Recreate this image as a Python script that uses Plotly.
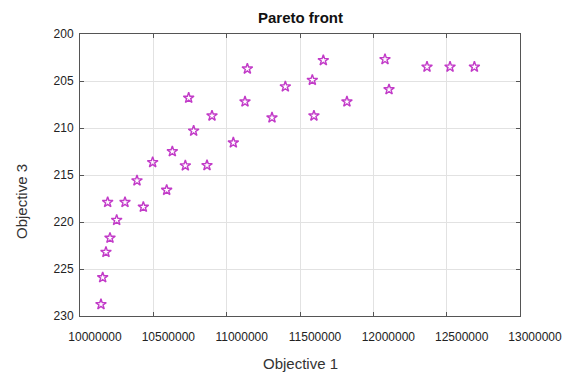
import plotly.graph_objects as go

obj1 = [10143000, 10154700, 10177000, 10204500, 10250000, 10188600, 10306800,
        10431800, 10590900, 10388600, 10495500, 10629500, 10718200, 10865900,
        11045400, 10774900, 10900000, 10741000, 11125000, 11309000, 11595000,
        11820000, 12107000, 11400000, 11584000, 11141000, 11659000, 12079500,
        12366000, 12523000, 12689000]
obj3 = [228.76, 225.9, 223.2, 221.7, 219.8, 217.9, 217.9,
        218.4, 216.6, 215.6, 213.65, 212.5, 214.0, 213.97,
        211.56, 210.3, 208.7, 206.8, 207.2, 208.9, 208.7,
        207.2, 205.9, 205.6, 204.9, 203.7, 202.8, 202.7,
        203.5, 203.5, 203.5]
x_ticks = [10000000, 10500000, 11000000, 11500000, 12000000, 12500000, 13000000]
y_ticks = [200, 205, 210, 215, 220, 225, 230]

fig = go.Figure()
fig.add_trace(go.Scatter(
    x=obj1, y=obj3, mode="markers",
    marker=dict(symbol="star-open", size=8, color="#c23bc8",
                line=dict(width=1.4, color="#c23bc8")),
    showlegend=False,
))

font = "Liberation Sans, Arial, sans-serif"
axis_common = dict(
    showline=True, linecolor="#555", linewidth=1, mirror="ticks",
    ticks="inside", ticklen=4, tickcolor="#555", automargin=False,
    showgrid=True, gridcolor="#e2e2e2", gridwidth=1,
    zeroline=False, tickfont=dict(family=font, size=12, color="#222"),
)
fig.update_layout(
    width=565, height=379,
    margin=dict(l=80, r=45, t=34, b=63),
    paper_bgcolor="white", plot_bgcolor="white",
    xaxis=dict(range=[10000000, 13000000], tickvals=x_ticks,
               ticktext=[str(v) for v in x_ticks], ticklabelstandoff=10,
               ticklabelshift=15, **axis_common),
    yaxis=dict(range=[230, 200], tickvals=y_ticks,
               ticktext=[str(v) for v in y_ticks], ticklabelstandoff=3,
               **axis_common),
    annotations=[
        dict(text="<b>Pareto front</b>", x=300, y=18, showarrow=False,
             font=dict(family=font, size=15, color="#111")),
        dict(text="Objective 1", x=300, y=363, showarrow=False,
             font=dict(family=font, size=15, color="#333")),
        dict(text="Objective 3", x=21, y=202, showarrow=False, textangle=-90,
             font=dict(family=font, size=15, color="#333")),
    ],
)
# convert pixel positions of the annotations to paper coordinates
W, H, L, R, T, B = 565, 379, 80, 45, 34, 63
pw, ph = W - L - R, H - T - B
for a in fig.layout.annotations:
    px, py = a.x, a.y
    a.x = (px - L) / pw
    a.y = 1 - (py - T) / ph
    a.xref = "paper"
    a.yref = "paper"
    a.xanchor = "center"
    a.yanchor = "middle"
fig.write_html("out.html")
